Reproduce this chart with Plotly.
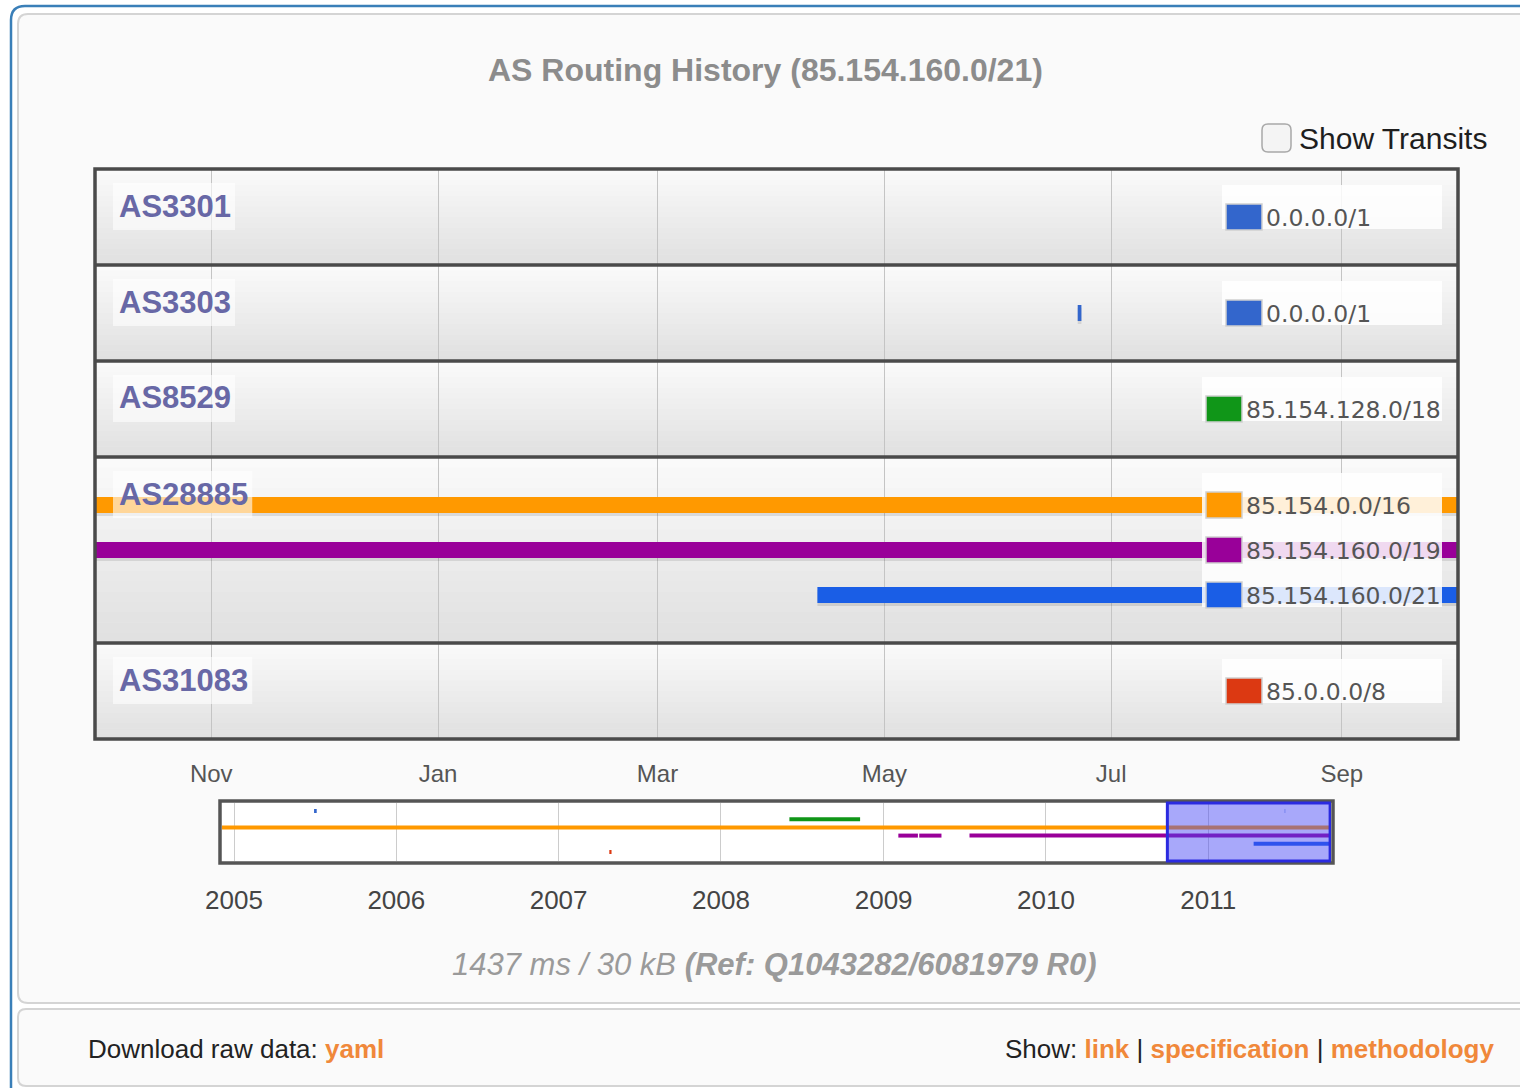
import plotly.graph_objects as go

# ------------------------------------------------------------------ data
title_text = "AS Routing History (85.154.160.0/21)"
as_names = ["AS3301", "AS3303", "AS8529", "AS28885", "AS31083"]
as_prefixes = [
    ["0.0.0.0/1"],
    ["0.0.0.0/1"],
    ["85.154.128.0/18"],
    ["85.154.0.0/16", "85.154.160.0/19", "85.154.160.0/21"],
    ["85.0.0.0/8"],
]
seg_as = ["AS3301", "AS3303", "AS8529", "AS28885", "AS28885", "AS28885",
          "AS28885", "AS28885", "AS31083"]
seg_prefix = ["0.0.0.0/1", "0.0.0.0/1", "85.154.128.0/18", "85.154.0.0/16",
              "85.154.160.0/19", "85.154.160.0/19", "85.154.160.0/19",
              "85.154.160.0/21", "85.0.0.0/8"]
seg_start = ["2005-06-30", "2011-06-22", "2008-06-03", "2004-11-20",
             "2009-02-03", "2009-03-22", "2009-07-13", "2011-04-13", "2007-04-25"]
seg_end = ["2005-07-06", "2011-06-23", "2008-11-09", "2011-10-10",
           "2009-03-19", "2009-05-11", "2011-10-10", "2011-10-10", "2007-04-30"]

view_range = ["2010-10-01", "2011-10-02"]
nav_range = ["2004-12-05", "2011-10-04"]
main_tick_dates = ["2010-11-01", "2011-01-01", "2011-03-01", "2011-05-01",
                   "2011-07-01", "2011-09-01"]
main_tick_labels = ["Nov", "Jan", "Mar", "May", "Jul", "Sep"]
year_tick_dates = ["2005-01-01", "2006-01-01", "2007-01-01", "2008-01-01",
                   "2009-01-01", "2010-01-01", "2011-01-01"]
year_tick_labels = ["2005", "2006", "2007", "2008", "2009", "2010", "2011"]

footer_stats = "1437 ms / 30 kB"
footer_ref = "(Ref: Q1043282/6081979 R0)"

# ------------------------------------------------------------------ styles
prefix_colors = {
    "0.0.0.0/1": "#3366cc",
    "85.154.128.0/18": "#109618",
    "85.154.0.0/16": "#ff9900",
    "85.154.160.0/19": "#990099",
    "85.154.160.0/21": "#1a5ee6",
    "85.0.0.0/8": "#dc3912",
}
W, H = 1520, 1088
SANS = "Liberation Sans, Arial, Helvetica, sans-serif"
WIDE = "DejaVu Sans, Verdana, sans-serif"
ORANGE = "#f0883a"


def X(px):
    return px / W


def Y(py):
    return 1 - py / H


FRAME_L, FRAME_R, FRAME_TOP = 96, 1457, 169
ROW_BASE, LANE_GAP, LANE_OFF = 96, 45, 48

row_tops, row_h = [], []
top = FRAME_TOP
for pre in as_prefixes:
    h = ROW_BASE + LANE_GAP * (len(pre) - 1)
    row_tops.append(top)
    row_h.append(h)
    top += h
FRAME_BOT = top

NAV_L, NAV_R, NAV_T, NAV_B = 222, 1331, 803, 861
NAV_LANE0, NAV_GAP = 811, 8.2
nav_prefixes = []
for pre in as_prefixes:
    for p in pre:
        if p not in nav_prefixes:
            nav_prefixes.append(p)

fig = go.Figure()

# ------------------------------------------------------------------ traces
for a, p, s, e in zip(seg_as, seg_prefix, seg_start, seg_end):
    r = as_names.index(a)
    lane = as_prefixes[r].index(p)
    yref = "y" if r == 0 else f"y{r + 1}"
    # faint drop shadow under each main bar
    fig.add_trace(go.Scatter(x=[s, e], y=[lane + 3 / LANE_GAP] * 2, mode="lines",
                             line=dict(color="rgba(0,0,0,0.10)", width=16),
                             xaxis="x", yaxis=yref, hoverinfo="skip",
                             showlegend=False))
    fig.add_trace(go.Scatter(x=[s, e], y=[lane, lane], mode="lines",
                             line=dict(color=prefix_colors[p], width=16),
                             xaxis="x", yaxis=yref, hoverinfo="skip",
                             showlegend=False))
    fig.add_trace(go.Scatter(x=[s, e], y=[nav_prefixes.index(p)] * 2,
                             mode="lines",
                             line=dict(color=prefix_colors[p], width=4),
                             xaxis="x2", yaxis="y6", hoverinfo="skip",
                             showlegend=False))

# ------------------------------------------------------------------ axes
axes = {}
for i in range(len(as_names)):
    t, h = row_tops[i], row_h[i]
    key = "yaxis" if i == 0 else f"yaxis{i + 1}"
    axes[key] = dict(domain=[Y(t + h), Y(t)],
                     range=[(h - LANE_OFF) / LANE_GAP, -LANE_OFF / LANE_GAP],
                     visible=False, fixedrange=True, anchor="x",
                     automargin=False)
axes["yaxis6"] = dict(domain=[Y(NAV_B), Y(NAV_T)],
                      range=[(NAV_B - NAV_LANE0) / NAV_GAP,
                             -(NAV_LANE0 - NAV_T) / NAV_GAP],
                      visible=False, fixedrange=True, anchor="x2",
                      automargin=False)
axes["xaxis"] = dict(domain=[X(FRAME_L), X(FRAME_R)], range=view_range,
                     type="date", anchor=f"y{len(as_names)}",
                     tickvals=main_tick_dates, ticktext=main_tick_labels,
                     showgrid=True, gridcolor="#c4c4c4", gridwidth=1,
                     ticks="", showline=False, zeroline=False,
                     ticklabelstandoff=18, fixedrange=True, automargin=False,
                     tickfont=dict(family=SANS, size=24, color="#555555"))
axes["xaxis2"] = dict(domain=[X(NAV_L), X(NAV_R)], range=nav_range,
                      type="date", anchor="y6",
                      tickvals=year_tick_dates, ticktext=year_tick_labels,
                      showgrid=True, gridcolor="#cccccc", gridwidth=1,
                      ticks="", showline=False, zeroline=False,
                      ticklabelstandoff=21, fixedrange=True, automargin=False,
                      tickfont=dict(family=SANS, size=26, color="#444444"))

# ------------------------------------------------------------------ shapes
shapes = []
annots = []


def rect(x0, y0, x1, y1, fill=None, line=None, lw=0, layer="above"):
    d = dict(type="rect", xref="paper", yref="paper",
             x0=X(x0), x1=X(x1), y0=Y(y0), y1=Y(y1), layer=layer,
             line=dict(width=lw, color=line or "rgba(0,0,0,0)"))
    if fill:
        d["fillcolor"] = fill
    shapes.append(d)


def rrect_path(x0, y0, x1, y1, r):
    pts = [
        f"M {X(x0 + r)},{Y(y0)}", f"L {X(x1 - r)},{Y(y0)}",
        f"Q {X(x1)},{Y(y0)} {X(x1)},{Y(y0 + r)}", f"L {X(x1)},{Y(y1 - r)}",
        f"Q {X(x1)},{Y(y1)} {X(x1 - r)},{Y(y1)}", f"L {X(x0 + r)},{Y(y1)}",
        f"Q {X(x0)},{Y(y1)} {X(x0)},{Y(y1 - r)}", f"L {X(x0)},{Y(y0 + r)}",
        f"Q {X(x0)},{Y(y0)} {X(x0 + r)},{Y(y0)}", "Z"]
    return " ".join(pts)


# page panels
shapes.append(dict(type="path", xref="paper", yref="paper", layer="below",
                   path=rrect_path(18, 14, 1540, 1003, 10),
                   fillcolor="#fafafa", line=dict(color="#d4d4d4", width=2)))
shapes.append(dict(type="path", xref="paper", yref="paper", layer="below",
                   path=rrect_path(18, 1009, 1540, 1086, 8),
                   fillcolor="#fafafa", line=dict(color="#d4d4d4", width=2)))
shapes.append(dict(type="path", xref="paper", yref="paper", layer="below",
                   path=f"M {X(11)},{Y(1095)} L {X(11)},{Y(20)} "
                        f"Q {X(11)},{Y(6)} {X(25)},{Y(6)} L {X(1525)},{Y(6)}",
                   line=dict(color="#3a7fb8", width=2.5)))

# row gradients
NB = 18
for t, h in zip(row_tops, row_h):
    for k in range(NB):
        c = int(250 - (250 - 225) * k / (NB - 1))
        rect(FRAME_L, t + h * k / NB, FRAME_R, t + h * (k + 1) / NB + 0.5,
             fill=f"rgb({c},{c},{c})", layer="below")

# nav interior
rect(NAV_L - 1, NAV_T - 1, NAV_R + 1, NAV_B + 1, fill="white", layer="below")

# main frame + separators
rect(FRAME_L - 1, FRAME_TOP, FRAME_R + 1, FRAME_BOT, line="#4a4a4a", lw=3.5)
for t in row_tops[1:]:
    shapes.append(dict(type="line", xref="paper", yref="paper",
                       x0=X(FRAME_L), x1=X(FRAME_R), y0=Y(t), y1=Y(t),
                       line=dict(color="#4a4a4a", width=3.5)))

# row labels + legends
LABEL_SIZE = 31
for i, name in enumerate(as_names):
    t = row_tops[i]
    c0 = t + LANE_OFF
    lw_est = LABEL_SIZE * (0.722 + 0.667 + 0.556 * (len(name) - 2))
    rect(113, c0 - 34, 113 + lw_est + 10, c0 + 13,
         fill="rgba(255,255,255,0.6)")
    annots.append(dict(x=X(117), y=Y(c0 - 11), xref="paper", yref="paper",
                       text=f"<b>{name}</b>", showarrow=False,
                       xanchor="left", yanchor="middle",
                       font=dict(family=SANS, size=LABEL_SIZE, color="#6868a6")))
    prefs = as_prefixes[i]
    box_l = 1202 if max(len(p) for p in prefs) >= 12 else 1222
    last_c = c0 + LANE_GAP * (len(prefs) - 1)
    rect(box_l, c0 - 32, 1442, last_c + 12, fill="rgba(255,255,255,0.85)")
    for k, p in enumerate(prefs):
        cy = c0 + LANE_GAP * k
        rect(box_l + 4, cy - 13, box_l + 40, cy + 13,
             fill=prefix_colors[p], line="#d0d0d0", lw=1.5)
        annots.append(dict(x=X(box_l + 42), y=Y(cy + 1), xref="paper",
                           yref="paper", text=p, showarrow=False,
                           xanchor="left", yanchor="middle",
                           font=dict(family=WIDE, size=23.5, color="#555555")))

# nav frame and selection window
rect(NAV_L - 2, NAV_T - 2, NAV_R + 2, NAV_B + 2, line="#555555", lw=3.5)
shapes.append(dict(type="rect", xref="x2", yref="paper",
                   x0=view_range[0], x1=view_range[1],
                   y0=Y(NAV_B), y1=Y(NAV_T), layer="above",
                   fillcolor="rgba(70,70,245,0.47)",
                   line=dict(color="#2a2ae0", width=3)))

# checkbox
shapes.append(dict(type="path", xref="paper", yref="paper", layer="above",
                   path=rrect_path(1262, 124, 1291, 152, 6),
                   fillcolor="#f4f4f4", line=dict(color="#a8a8a8", width=1.5)))

# ------------------------------------------------------------------ texts
annots.append(dict(x=X(766), y=Y(70), xref="paper", yref="paper",
                   text=f"<b>{title_text}</b>", showarrow=False,
                   xanchor="center", yanchor="middle",
                   font=dict(family=SANS, size=32, color="#8c8c8c")))
annots.append(dict(x=X(1297), y=Y(139), xref="paper", yref="paper",
                   text="Show Transits", showarrow=False,
                   xanchor="left", yanchor="middle",
                   font=dict(family=SANS, size=30, color="#1e1e1e")))
annots.append(dict(x=X(775), y=Y(964), xref="paper", yref="paper",
                   text=f"<i>{footer_stats} </i><b><i>{footer_ref}</i></b>",
                   showarrow=False, xanchor="center", yanchor="middle",
                   font=dict(family=SANS, size=31, color="#9a9a9a")))
annots.append(dict(x=X(86), y=Y(1049), xref="paper", yref="paper",
                   text=f"Download raw data: <b><span style='color:{ORANGE}'>yaml</span></b>",
                   showarrow=False, xanchor="left", yanchor="middle",
                   font=dict(family=SANS, size=26, color="#222222")))
annots.append(dict(x=X(1496), y=Y(1049), xref="paper", yref="paper",
                   text=(f"Show: <b><span style='color:{ORANGE}'>link</span></b> | "
                         f"<b><span style='color:{ORANGE}'>specification</span></b> | "
                         f"<b><span style='color:{ORANGE}'>methodology</span></b>"),
                   showarrow=False, xanchor="right", yanchor="middle",
                   font=dict(family=SANS, size=26, color="#222222")))

fig.update_layout(width=W, height=H, autosize=False,
                  margin=dict(l=0, r=0, t=0, b=0, pad=0, autoexpand=False),
                  paper_bgcolor="white", plot_bgcolor="rgba(0,0,0,0)",
                  shapes=shapes, annotations=annots, showlegend=False,
                  **axes)

fig.write_html("out.html", config={"displayModeBar": False},
               post_script="document.body.style.margin='0';"
                           "document.body.style.overflow='hidden';")
